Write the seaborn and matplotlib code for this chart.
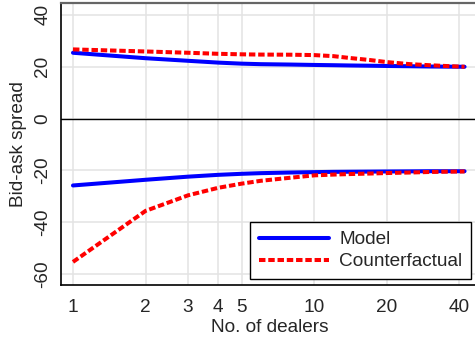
import matplotlib
matplotlib.use("Agg")
import matplotlib.pyplot as plt
import seaborn as sns
import pandas as pd
from matplotlib.lines import Line2D

sns.set_theme(style="white")
plt.rcParams["font.family"] = ["Liberation Sans", "DejaVu Sans"]

dealers = [1, 2, 3, 4, 5, 6, 8, 10, 12, 14, 17, 20, 25, 30, 35, 42]
model_ask = [25.4, 23.3, 22.3, 21.6, 21.2, 21.0, 20.85, 20.7, 20.6, 20.5, 20.4, 20.3, 20.2, 20.1, 20.05, 20.0]
cf_ask = [26.7, 25.9, 25.4, 25.0, 24.8, 24.7, 24.65, 24.5, 24.1, 23.4, 22.6, 21.8, 21.0, 20.6, 20.3, 20.0]
model_bid = [-25.8, -23.6, -22.4, -21.7, -21.3, -21.05, -20.8, -20.65, -20.55, -20.5, -20.45, -20.4, -20.35, -20.3, -20.3, -20.3]
cf_bid = [-55.3, -35.6, -29.6, -26.7, -25.1, -24.0, -22.8, -21.9, -21.6, -21.4, -21.2, -21.0, -20.8, -20.6, -20.5, -20.4]

x_ticks = [1, 2, 3, 4, 5, 10, 20, 40]
y_ticks = [-60, -40, -20, 0, 20, 40]

frames = []
for name, side, vals in [("Model", "ask", model_ask), ("Model", "bid", model_bid),
                         ("Counterfactual", "ask", cf_ask), ("Counterfactual", "bid", cf_bid)]:
    frames.append(pd.DataFrame({"dealers": dealers, "spread": vals,
                                "series": name, "side": side}))
df = pd.concat(frames, ignore_index=True)

fig = plt.figure(figsize=(4.75, 3.38), dpi=100)
W, H = 475, 338
ax = fig.add_axes([61 / W, (H - 285) / H, (479 - 61) / W, (285 - 3) / H])

ax.set_xscale("log")
ax.set_xlim(0.892, 48.2)
ax.set_ylim(-64.2, 44.6)

ax.grid(True, color="#e3e3e3", linewidth=1.1)
ax.axhline(0, color="black", linewidth=1.0, zorder=1.5)

colors = {"Model": "#0000ff", "Counterfactual": "#ff0000"}
dash_style = (0, (1.6, 0.7))
for (name, side), sub in df.groupby(["series", "side"]):
    sns.lineplot(data=sub, x="dealers", y="spread", ax=ax, color=colors[name],
                 linewidth=2.9, legend=False, estimator=None,
                 linestyle="-" if name == "Model" else dash_style,
                 zorder=3 if name == "Model" else 4)

FS = 13.7
ax.set_xticks(x_ticks)
ax.set_xticklabels([str(t) for t in x_ticks])
ax.minorticks_off()
ax.set_yticks(y_ticks)
ax.set_yticklabels([str(t) for t in y_ticks], rotation=90, va="center")

ax.tick_params(axis="both", which="major", direction="out", length=6, width=1,
               color="#444444", labelsize=FS, pad=4)
ax.tick_params(axis="y", pad=1)

ax.set_xlabel("No. of dealers", fontsize=FS, labelpad=2)
ax.set_ylabel("Bid-ask spread", fontsize=FS, labelpad=5)

for s in ["left", "bottom"]:
    ax.spines[s].set_color("black")
    ax.spines[s].set_linewidth(1.2)
ax.spines["top"].set_color("#666666")
ax.spines["top"].set_linewidth(1.6)
ax.spines["right"].set_visible(False)

handles = [Line2D([], [], color=colors["Model"], linewidth=2.9, linestyle="-"),
           Line2D([], [], color=colors["Counterfactual"], linewidth=2.9, linestyle=dash_style)]
leg = ax.legend(handles, ["Model", "Counterfactual"], loc="lower left",
                bbox_to_anchor=((250 - 61) / (479 - 61), (285 - 279) / (285 - 3)),
                fontsize=FS, frameon=True, fancybox=False, handlelength=3.7,
                handletextpad=0.55, borderpad=0.45, labelspacing=0.25, borderaxespad=0)
leg.get_frame().set_edgecolor("black")
leg.get_frame().set_linewidth(1.0)
leg.get_frame().set_alpha(1)

fig.savefig("out.png", dpi=100)
